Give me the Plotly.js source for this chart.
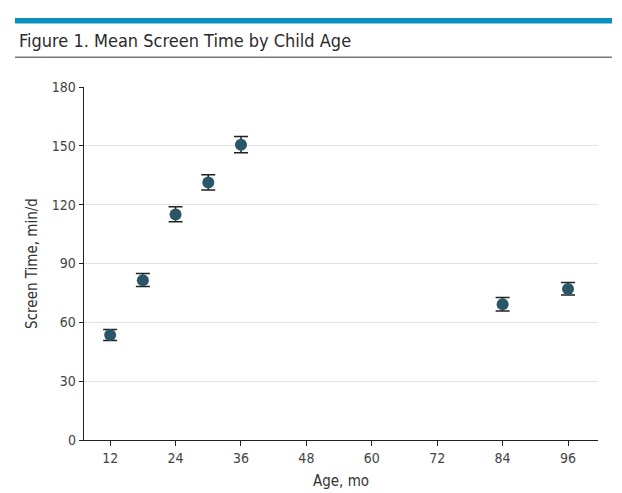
<!DOCTYPE html>
<html>
<head>
<meta charset="utf-8">
<script src="https://cdn.plot.ly/plotly-3.0.1.min.js"></script>
<style>
html,body{margin:0;padding:0;background:#fff;}
#chart{width:622px;height:493px;}
</style>
</head>
<body>
<div id="chart"></div>
<script>
// Data
const ageMonths = [12, 18, 24, 30, 36, 84, 96];
const meanScreenTime = [53.5, 81.5, 115, 131.3, 150.6, 69.2, 77];
const ciUpper = [56.3, 84.9, 118.9, 135.3, 154.8, 72.6, 80.3];
const ciLower = [50.7, 78.3, 111.3, 127.5, 146.5, 65.8, 74.0];
const xTickVals = [12, 24, 36, 48, 60, 72, 84, 96];
const yTickVals = [0, 30, 60, 90, 120, 150, 180];

const W = 622, H = 493;
const M = {l: 84, r: 24, t: 87, b: 53};
const pw = W - M.l - M.r, ph = H - M.t - M.b;
const px2x = p => (p - M.l) / pw;
const py2y = p => (H - M.b - p) / ph;

const FONT = '"Liberation Sans Narrow", "DejaVu Sans Condensed", "Arial Narrow", sans-serif';

const errPlus = meanScreenTime.map((m, i) => ciUpper[i] - m);
const errMinus = meanScreenTime.map((m, i) => m - ciLower[i]);

const trace = {
  x: ageMonths,
  y: meanScreenTime,
  type: 'scatter',
  mode: 'markers',
  marker: {size: 12, color: '#2b5668'},
  error_y: {
    type: 'data', symmetric: false,
    array: errPlus, arrayminus: errMinus,
    color: '#222', thickness: 1.5, width: 7
  },
  hoverinfo: 'x+y',
  showlegend: false
};

const layout = {
  width: W, height: H,
  margin: M,
  paper_bgcolor: '#fff',
  plot_bgcolor: '#fff',
  font: {family: FONT, color: '#444', size: 14},
  xaxis: {
    range: [7.2, 101.5],
    tickmode: 'array', tickvals: xTickVals,
    ticks: 'outside', ticklen: 5, tickwidth: 1, tickcolor: '#222',
    showline: true, linecolor: '#222', linewidth: 1.3,
    showgrid: false, zeroline: false,
    tickfont: {family: FONT, size: 14, color: '#444'},
    title: {text: 'Age, mo', font: {family: FONT, size: 15, color: '#333'}, standoff: 10}
  },
  yaxis: {
    range: [0, 180],
    tickmode: 'array', tickvals: yTickVals,
    ticks: 'outside', ticklen: 4, tickwidth: 1, tickcolor: '#222',
    showline: true, linecolor: '#222', linewidth: 1.3,
    showgrid: true, gridcolor: '#e3e3e3', gridwidth: 1,
    zeroline: false,
    tickfont: {family: FONT, size: 14, color: '#444'},
    title: {text: 'Screen Time, min/d', font: {family: FONT, size: 15, color: '#333'}, standoff: 10}
  },
  shapes: [
    {type: 'rect', xref: 'paper', yref: 'paper',
     x0: px2x(15), x1: px2x(612), y0: py2y(23.5), y1: py2y(18),
     fillcolor: '#0b8fbd', line: {width: 0}},
    {type: 'line', xref: 'paper', yref: 'paper',
     x0: px2x(15), x1: px2x(612), y0: py2y(57.3), y1: py2y(57.3),
     line: {color: '#777', width: 1.5}}
  ],
  annotations: [
    {text: 'Figure 1. Mean Screen Time by Child Age',
     xref: 'paper', yref: 'paper', x: px2x(17), y: py2y(40.5),
     xanchor: 'left', yanchor: 'middle', showarrow: false,
     font: {family: FONT, size: 18, color: '#2b2b2b'}}
  ]
};

Plotly.newPlot('chart', [trace], layout, {displayModeBar: false, staticPlot: true});
</script>
</body>
</html>
